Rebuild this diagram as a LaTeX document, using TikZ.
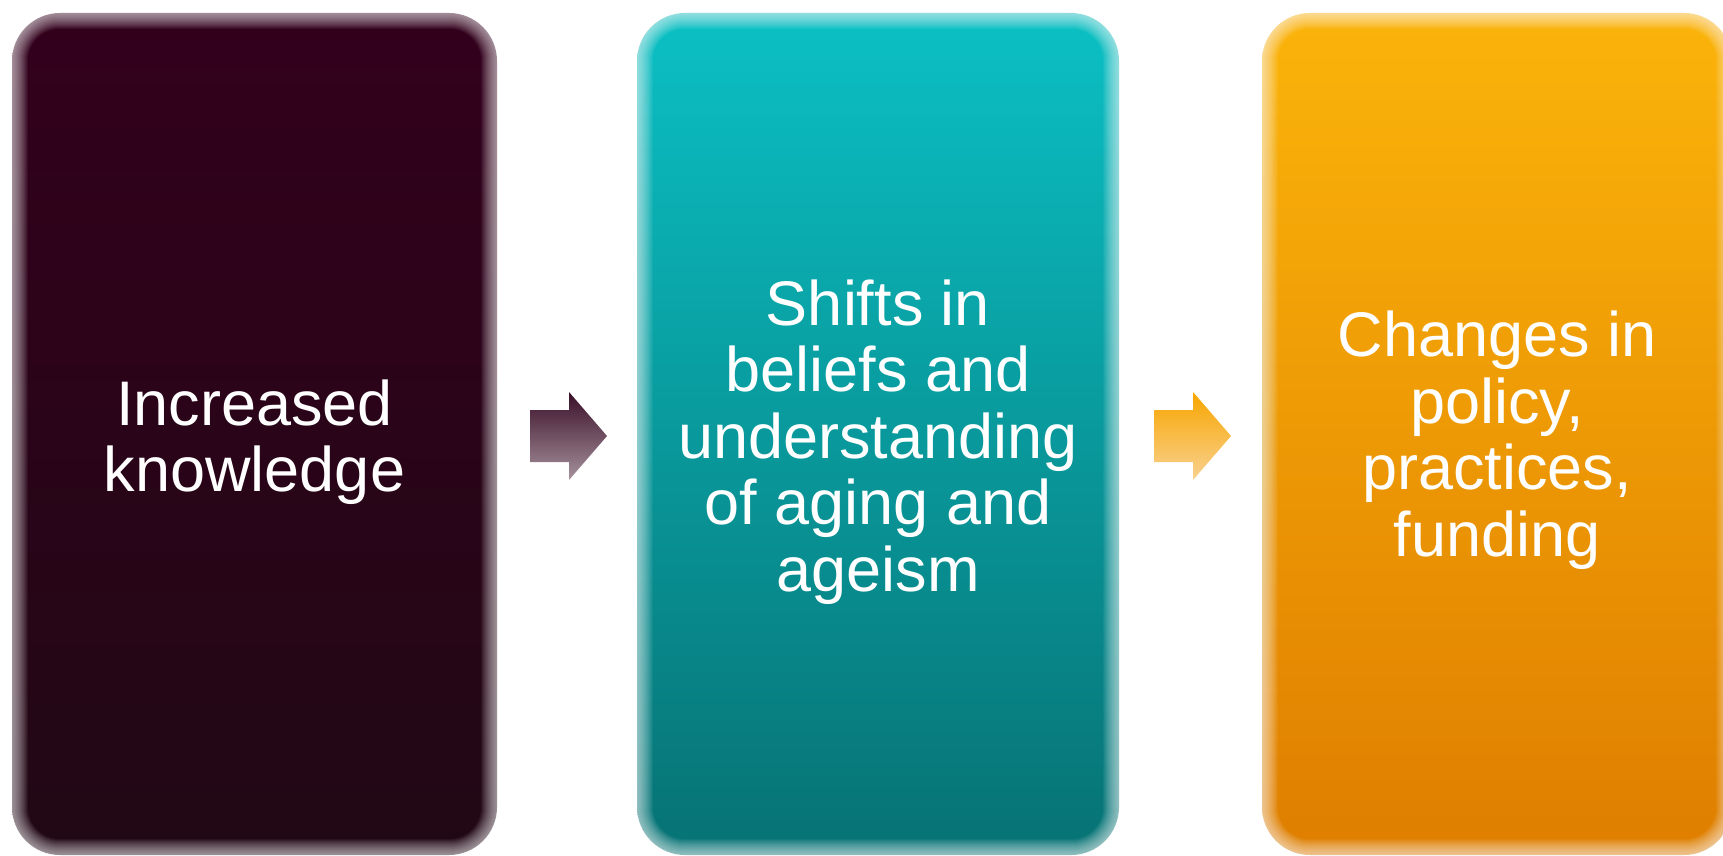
\documentclass[tikz,border=0pt]{standalone}
\usepackage{fontspec}
\setmainfont{Liberation Sans}
\definecolor{plumtop}{HTML}{33001C}
\definecolor{plumbot}{HTML}{210815}
\definecolor{tealtop}{HTML}{0BC0C4}
\definecolor{tealbot}{HTML}{077274}
\definecolor{ambertop}{HTML}{FBB40A}
\definecolor{amberbot}{HTML}{DF7E00}
\definecolor{plumarrowtop}{HTML}{3A0F28}
\definecolor{plumarrowbot}{HTML}{A6929D}
\definecolor{amberarrowtop}{HTML}{F8A600}
\definecolor{amberarrowbot}{HTML}{F8D190}
\tikzset{
  stagebox/.style={rectangle, rounded corners=48pt, minimum width=#1, minimum height=842pt,
    inner sep=0pt},
  stagetext/.style={text=white, align=center, inner sep=0pt,
    font=\fontsize{63}{66.5}\selectfont},
  softedge/.style={white, line width=#1, opacity=0.05, rounded corners=48pt}
}
\newcommand{\fadeedge}[1]{%
  \foreach \w in {2,4,...,32}
    \draw[softedge=\w pt] (#1.south west) rectangle (#1.north east);}
% block arrow centred on a named coordinate: shaft 39x52, head 38x88
\newcommand{\blockarrow}[3]{%
  \path[top color=#2, bottom color=#3]
    ([shift={(-38.5,-26)}]#1) -- ([shift={(0.5,-26)}]#1) -- ([shift={(0.5,-44)}]#1)
    -- ([shift={(38.5,0)}]#1) -- ([shift={(0.5,44)}]#1) -- ([shift={(0.5,26)}]#1)
    -- ([shift={(-38.5,26)}]#1) -- cycle;}
\begin{document}
\begin{tikzpicture}[x=1pt,y=-1pt]
  \useasboundingbox (0,0) rectangle (1723,856);
  % three stages
  \node[stagebox=485pt, top color=plumtop, bottom color=plumbot] (b1) at (254.5,434) {};
  \node[stagebox=482pt, top color=tealtop, bottom color=tealbot] (b2) at (878,434) {};
  \node[stagebox=470pt, top color=ambertop, bottom color=amberbot] (b3) at (1497,434) {};
  \fadeedge{b1}
  \fadeedge{b2}
  \fadeedge{b3}
  \node[stagetext] (t1) at ([yshift=-8pt]b1.center) {Increased\\knowledge};
  \node[stagetext] (t2) at ([yshift=-8pt]b2.center) {Shifts in\\beliefs and\\understanding\\of aging and\\ageism};
  \node[stagetext] (t3) at ([yshift=-6pt]b3.center) {Changes in\\policy,\\practices,\\funding};
  % block arrows between stages
  \coordinate (a1) at (568.5,436);
  \coordinate (a2) at (1192.5,436);
  \blockarrow{a1}{plumarrowtop}{plumarrowbot}
  \blockarrow{a2}{amberarrowtop}{amberarrowbot}
\end{tikzpicture}
\end{document}
